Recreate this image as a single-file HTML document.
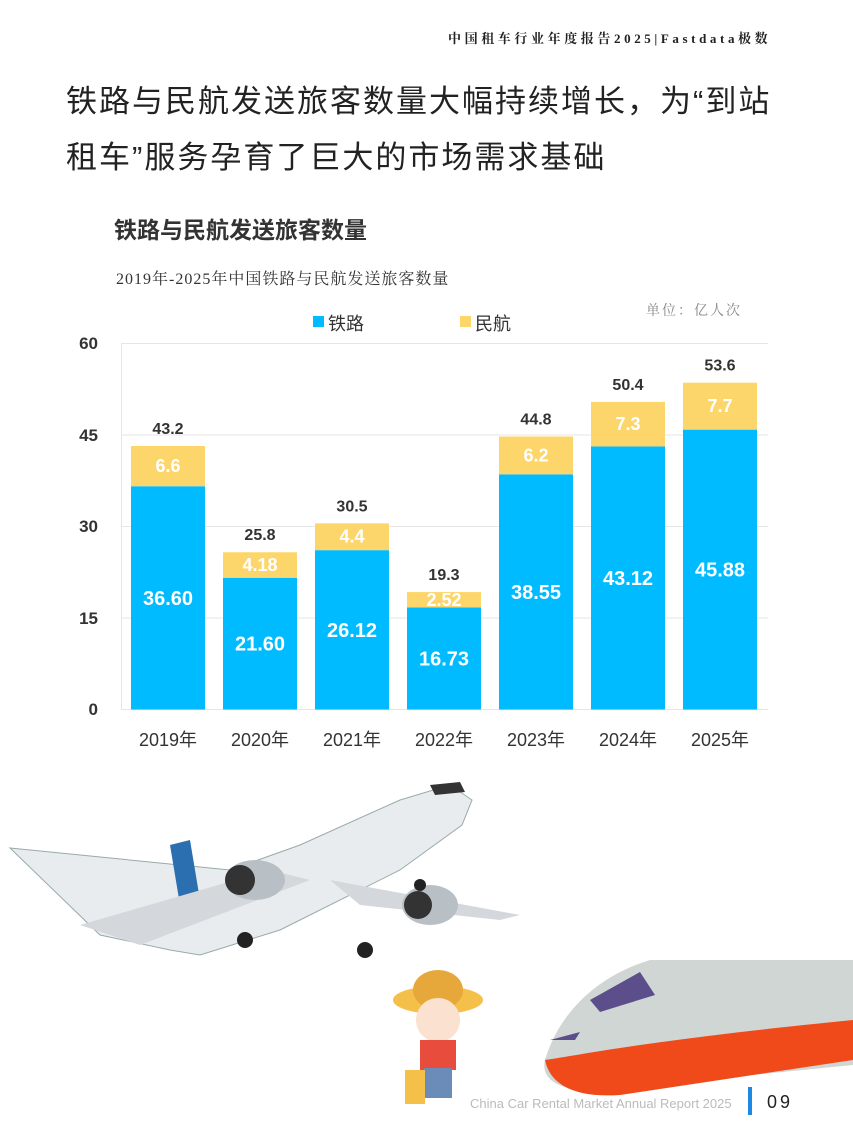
<!DOCTYPE html>
<html><head><meta charset="utf-8"><style>
body{margin:0;width:853px;height:1137px;background:#fff;position:relative;overflow:hidden;font-family:"Liberation Sans","Noto Sans CJK SC",sans-serif}
.hdr{position:absolute;left:448px;top:28px;font-size:13px;letter-spacing:3.6px;color:#222;font-family:"Liberation Serif","Noto Serif CJK SC",serif;font-weight:bold}
.title{position:absolute;left:66px;top:74px;font-size:31px;line-height:56px;color:#222;letter-spacing:2px}
</style></head><body>
<div class="hdr">中国租车行业年度报告2025|Fastdata极数</div>
<div class="title">铁路与民航发送旅客数量大幅持续增长，为“到站<br>租车”服务孕育了巨大的市场需求基础</div>
<svg width="853" height="1137" style="position:absolute;left:0;top:0" font-family="Liberation Sans,Noto Sans CJK SC,sans-serif">
<text x="114" y="238" font-size="23" font-weight="bold" fill="#333">铁路与民航发送旅客数量</text>
<text x="116" y="284" font-size="16" fill="#333" font-family="Liberation Serif,Noto Serif CJK SC,serif" letter-spacing="1">2019年-2025年中国铁路与民航发送旅客数量</text>
<text x="646" y="315" font-size="14" fill="#888" font-family="Liberation Serif,Noto Serif CJK SC,serif" letter-spacing="2">单位：亿人次</text>
<rect x="313" y="316" width="11" height="11" fill="#00BBFF"/><text x="328" y="330" font-size="18" fill="#333">铁路</text>
<rect x="460" y="316" width="11" height="11" fill="#FDD66B"/><text x="475" y="330" font-size="18" fill="#333">民航</text>
<g stroke="#e6e6e6" stroke-width="1">
<line x1="121" y1="343.5" x2="768" y2="343.5"/><line x1="121" y1="435" x2="768" y2="435"/><line x1="121" y1="526.5" x2="768" y2="526.5"/><line x1="121" y1="618" x2="768" y2="618"/><line x1="121" y1="709.5" x2="768" y2="709.5"/><line x1="121.5" y1="343" x2="121.5" y2="710"/>
</g>
<g font-size="17" font-weight="bold" fill="#333" text-anchor="end" font-family="Liberation Sans Narrow,Liberation Sans,sans-serif">
<text x="98" y="349">60</text><text x="98" y="441">45</text><text x="98" y="532">30</text><text x="98" y="624">15</text><text x="98" y="715">0</text>
</g>
<g id="bars" font-weight="bold" text-anchor="middle"></g>
<g>
<path d="M10 848 L230 870 L300 845 L400 800 L450 785 L472 800 L462 825 L400 870 L280 930 L200 955 L170 950 L100 935 Z" fill="#e8ecef" stroke="#9aa" stroke-width="1"/>
<path d="M170 845 L190 840 L200 900 L180 905 Z" fill="#2b6fb0"/>
<path d="M80 925 L270 870 L310 880 L140 945 Z" fill="#d4d8dc"/>
<path d="M330 880 L520 915 L500 920 L360 905 Z" fill="#d4d8dc"/>
<ellipse cx="255" cy="880" rx="30" ry="20" fill="#b8bfc5"/><circle cx="240" cy="880" r="15" fill="#333"/>
<ellipse cx="430" cy="905" rx="28" ry="20" fill="#b8bfc5"/><circle cx="418" cy="905" r="14" fill="#333"/>
<circle cx="245" cy="940" r="8" fill="#222"/><circle cx="365" cy="950" r="8" fill="#222"/><circle cx="420" cy="885" r="6" fill="#222"/>
<path d="M430 785 L460 782 L465 792 L435 795Z" fill="#333"/>
</g>
<path d="M545 1060 C560 1010 600 975 650 960 L853 960 L853 1065 L600 1090 C560 1092 540 1080 545 1060Z" fill="#d0d6d4"/>
<path d="M545 1060 C580 1055 650 1040 853 1020 L853 1060 L620 1095 C575 1098 550 1085 545 1060Z" fill="#f04a1a"/>
<path d="M590 1000 L640 972 L655 995 L600 1012Z" fill="#5b4e8a"/>
<path d="M550 1040 L580 1032 L575 1040 Z" fill="#5b4e8a"/>
<ellipse cx="438" cy="1000" rx="45" ry="14" fill="#f4c04a"/><ellipse cx="438" cy="990" rx="25" ry="20" fill="#e6a83a"/>
<ellipse cx="438" cy="1020" rx="22" ry="22" fill="#fbe1cf"/>
<rect x="420" y="1040" width="36" height="30" fill="#e74c3c"/><rect x="424" y="1068" width="28" height="30" fill="#6b8cb8"/>
<rect x="405" y="1070" width="20" height="34" fill="#f4c04a"/>
<text x="470" y="1108" font-size="13" fill="#bbb">China Car Rental Market Annual Report 2025</text>
<rect x="748" y="1087" width="4" height="28" fill="#1e88e5"/>
<text x="767" y="1108" font-size="18" fill="#222" letter-spacing="3">09</text>
</svg>
<script>
var d=[["2019",36.6,6.6,"36.60","6.6","43.2"],["2020",21.6,4.18,"21.60","4.18","25.8"],["2021",26.12,4.4,"26.12","4.4","30.5"],["2022",16.73,2.52,"16.73","2.52","19.3"],["2023",38.55,6.2,"38.55","6.2","44.8"],["2024",43.12,7.3,"43.12","7.3","50.4"],["2025",45.88,7.7,"45.88","7.7","53.6"]];
var s="",k=6.1,b=709.5,nf=' font-family="Liberation Sans Narrow,Liberation Sans,sans-serif"';
d.forEach(function(r,i){var x=131+i*92,w=74,h1=r[1]*k,h2=r[2]*k,cx=x+w/2;
s+='<rect x="'+x+'" y="'+(b-h1)+'" width="'+w+'" height="'+h1+'" fill="#00BBFF"/>';
s+='<rect x="'+x+'" y="'+(b-h1-h2)+'" width="'+w+'" height="'+h2+'" fill="#FDD66B"/>';
s+='<text'+nf+' x="'+cx+'" y="'+(b-h1/2+7)+'" font-size="20" fill="#fff">'+r[3]+'</text>';
s+='<text'+nf+' x="'+cx+'" y="'+(b-h1-h2/2+6)+'" font-size="18" fill="#fff">'+r[4]+'</text>';
s+='<text'+nf+' x="'+cx+'" y="'+(b-h1-h2-12)+'" font-size="16" fill="#333">'+r[5]+'</text>';
s+='<text x="'+cx+'" y="746" font-size="18" font-weight="normal" fill="#333">'+r[0]+'年</text>';});
document.getElementById("bars").innerHTML=s;
</script>
</body></html>
